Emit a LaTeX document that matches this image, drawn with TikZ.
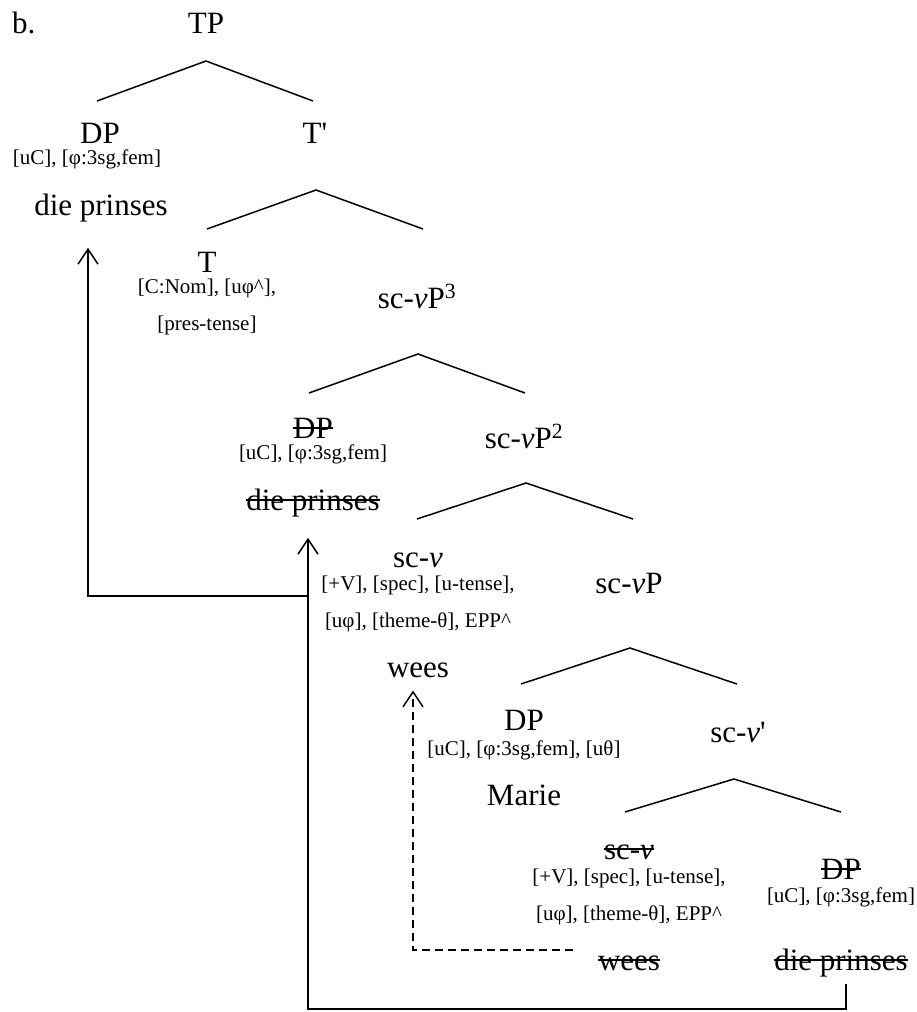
\documentclass[tikz,border=0pt]{standalone}
\usepackage{fontspec}
\setmainfont{Liberation Serif}
\usetikzlibrary{arrows.meta, positioning}
\newcommand{\scv}{sc-{\itshape v}}

\begin{document}
\begin{tikzpicture}[x=1pt, y=-1pt,
    cat/.style={font=\fontsize{31}{31}\selectfont, inner sep=0pt, anchor=base},
    feat/.style={font=\fontsize{21}{37}\selectfont, inner sep=0pt,
                 anchor=base, align=center},
    del/.style={append after command={
                 ([yshift=10pt]\tikzlastnode.base west)
                 edge[line width=1.5pt] ([yshift=10pt]\tikzlastnode.base east)}},
    br/.style={line width=1.5pt},
    arw/.style={line width=1.5pt, -{Straight Barb[length=15pt,width=20pt]}},
    darw/.style={arw, dash pattern=on 8pt off 5pt}
  ]
    \useasboundingbox (0,0) rectangle (916,1012);

    % TP
    \node[cat, anchor=base west] (ex)   at (12,33)   {b.};
    \node[cat]                   (tp)   at (206,33)  {TP};
    \node[cat]                   (dpA)  at (100,143) {DP};
    \node[feat]                  (ftA)  at (87,164)  {[uC], [φ:3sg,fem]};
    \node[cat]                   (prA)  at (101,215) {die prinses};
    \node[cat]                   (tbar) at (315,143) {T\textquotesingle};
    \node[cat]                   (t)    at (207,272) {T};
    \node[feat]                  (ftT)  at (207,330) {[C:Nom], [uφ\textasciicircum],\\{}[pres-tense]};

    % sc-vP3 / sc-vP2
    \node[cat]                   (vp3)  at (417,308) {\scv P\textsuperscript{3}};
    \node[cat, del]              (dpB)  at (313,438) {DP};
    \node[feat]                  (ftB)  at (313,459) {[uC], [φ:3sg,fem]};
    \node[cat, del]              (prC)  at (313,510) {die prinses};
    \node[cat]                   (vp2)  at (524,448) {\scv P\textsuperscript{2}};
    \node[cat]                   (vA)   at (418,567) {\scv};
    \node[feat]                  (ftV)  at (418,627) {[+V], [spec], [u-tense],\\{}[uφ], [theme-θ], EPP\textasciicircum};
    \node[cat]                   (wsB)  at (418,677) {wees};

    % sc-vP
    \node[cat]                   (vp)   at (629,593) {\scv P};
    \node[cat]                   (dpM)  at (524,730) {DP};
    \node[feat]                  (ftM)  at (524,755) {[uC], [φ:3sg,fem], [uθ]};
    \node[cat]                   (mar)  at (524,805) {Marie};
    \node[cat]                   (vbar) at (738,742) {\scv\textquotesingle};
    \node[cat, del]              (vB)   at (629,859) {\scv};
    \node[feat]                  (ftW)  at (629,920) {[+V], [spec], [u-tense],\\{}[uφ], [theme-θ], EPP\textasciicircum};
    \node[cat, del]              (wsD)  at (629,970) {wees};
    \node[cat, del]              (dpC)  at (841,879) {DP};
    \node[feat]                  (ftC)  at (841,902) {[uC], [φ:3sg,fem]};
    \node[cat, del]              (prE)  at (841,970) {die prinses};

    % Branches
    \foreach \ax/\ay/\dy in {206/61/40, 316/190/39, 418/354/39,
                             526/483/36, 630/648/36, 734/779/33}
      \draw[br] (\ax-109,\ay+\dy) -- (\ax,\ay) -- (\ax+107,\ay+\dy);

    % Movement
    \coordinate (fork)   at (308,596);
    \coordinate (vstart) at (573,950);
    \draw[arw]  ([xshift=5pt,yshift=-7pt]prE.south) -- ++(0,25)
                -| ([xshift=-5pt,yshift=-21pt]prC.south);
    \draw[arw]  (fork) -| ([xshift=-13pt,yshift=-26pt]prA.south);
    \draw[darw] (vstart) -| ([xshift=-5pt,yshift=-13pt]wsB.south);
\end{tikzpicture}
\end{document}
